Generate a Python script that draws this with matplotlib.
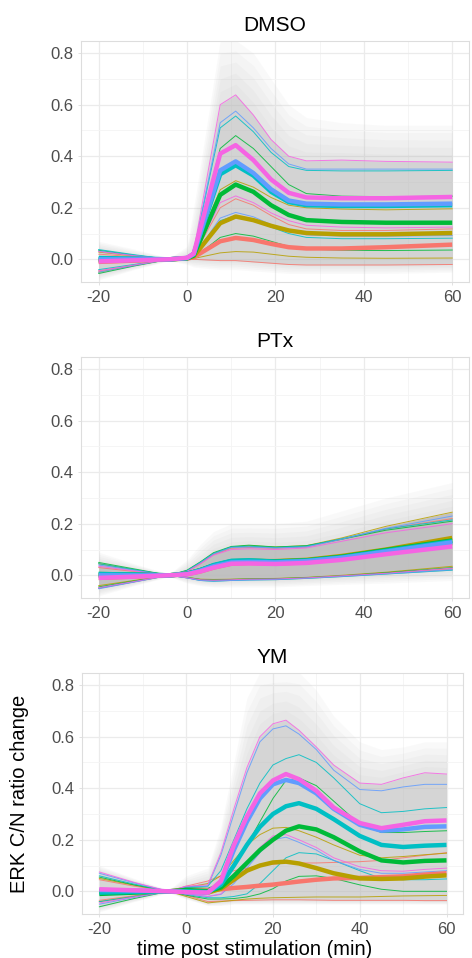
# ------------------------------------ Imports ----------------------------------
import numpy as np
import matplotlib
matplotlib.use("Agg")
import matplotlib.pyplot as plt
from matplotlib.ticker import MultipleLocator

# ------------------------------------ Data ----------------------------------
# ggplot hue palette, 6 groups (red, olive, green, cyan, blue, magenta)
group_colors = ["#F8766D", "#B79F00", "#00BA38", "#00BFC4", "#619CFF", "#F564E3"]
panel_titles = ["DMSO", "PTx", "YM"]

# DMSO
time_dmso = [-20, -12, -4, 0, 1.5, 7.5, 11, 15, 19, 23, 27, 35, 45, 60]
dmso_median = [
    [-0.01, -0.005, 0, 0.003, 0.008, 0.07, 0.083, 0.075, 0.06, 0.047, 0.042, 0.042, 0.047, 0.057],
    [-0.005, -0.003, 0, 0.004, 0.012, 0.14, 0.166, 0.152, 0.13, 0.112, 0.102, 0.097, 0.097, 0.102],
    [0.0, 0.0, 0, 0.004, 0.015, 0.25, 0.29, 0.262, 0.21, 0.172, 0.152, 0.145, 0.142, 0.142],
    [0.005, 0.003, 0, 0.005, 0.02, 0.33, 0.365, 0.325, 0.262, 0.222, 0.21, 0.207, 0.207, 0.21],
    [0.0, 0.0, 0, 0.005, 0.02, 0.345, 0.38, 0.335, 0.272, 0.228, 0.216, 0.213, 0.213, 0.216],
    [-0.008, -0.004, 0, 0.006, 0.022, 0.41, 0.443, 0.385, 0.31, 0.258, 0.24, 0.237, 0.237, 0.242],
]
dmso_upper = [
    [0.02, 0.01, 0, 0.006, 0.015, 0.2, 0.235, 0.21, 0.17, 0.135, 0.118, 0.112, 0.112, 0.118],
    [0.028, 0.013, 0, 0.008, 0.02, 0.27, 0.305, 0.28, 0.24, 0.21, 0.2, 0.195, 0.192, 0.196],
    [0.035, 0.016, 0, 0.01, 0.026, 0.43, 0.48, 0.43, 0.36, 0.29, 0.255, 0.245, 0.243, 0.245],
    [0.038, 0.018, 0, 0.01, 0.03, 0.51, 0.556, 0.495, 0.415, 0.36, 0.345, 0.343, 0.343, 0.345],
    [0.032, 0.015, 0, 0.01, 0.03, 0.53, 0.575, 0.51, 0.43, 0.37, 0.35, 0.35, 0.35, 0.35],
    [0.03, 0.014, 0, 0.011, 0.032, 0.6, 0.638, 0.56, 0.465, 0.4, 0.382, 0.385, 0.38, 0.377],
]
dmso_lower = [
    [-0.045, -0.022, 0, 0.0, 0.0, -0.005, -0.005, -0.01, -0.015, -0.02, -0.022, -0.022, -0.022, -0.02],
    [-0.05, -0.024, 0, 0.0, 0.003, 0.025, 0.03, 0.028, 0.02, 0.012, 0.008, 0.005, 0.004, 0.005],
    [-0.055, -0.026, 0, 0.0, 0.005, 0.085, 0.1, 0.09, 0.07, 0.05, 0.04, 0.035, 0.034, 0.036],
    [-0.04, -0.02, 0, 0.002, 0.01, 0.15, 0.17, 0.15, 0.125, 0.1, 0.085, 0.08, 0.08, 0.082],
    [-0.05, -0.024, 0, 0.002, 0.01, 0.16, 0.182, 0.165, 0.135, 0.11, 0.095, 0.09, 0.09, 0.092],
    [-0.045, -0.022, 0, 0.003, 0.012, 0.22, 0.246, 0.22, 0.18, 0.15, 0.132, 0.125, 0.122, 0.125],
]
dmso_cloud_hi = [0.07, 0.04, 0.005, 0.05, 0.2, 0.85, 0.85, 0.8, 0.7, 0.6, 0.55, 0.53, 0.52, 0.52]
dmso_cloud_lo = [-0.08, -0.04, -0.005, -0.02, -0.03, -0.04, -0.04, -0.045, -0.05, -0.055, -0.055, -0.055, -0.055, -0.05]

# PTx
time_ptx = [-20, -12, -4, 0, 3, 6, 10, 14, 20, 27, 35, 45, 60]
ptx_median = [
    [-0.01, -0.005, 0, 0.004, 0.015, 0.03, 0.045, 0.048, 0.046, 0.05, 0.065, 0.09, 0.125],
    [0.0, 0.0, 0, 0.006, 0.02, 0.038, 0.052, 0.055, 0.055, 0.06, 0.075, 0.1, 0.145],
    [0.005, 0.003, 0, 0.006, 0.02, 0.038, 0.055, 0.057, 0.054, 0.058, 0.072, 0.098, 0.135],
    [0.005, 0.003, 0, 0.006, 0.02, 0.04, 0.056, 0.058, 0.053, 0.057, 0.07, 0.095, 0.132],
    [0.0, 0.0, 0, 0.005, 0.018, 0.035, 0.05, 0.052, 0.05, 0.055, 0.068, 0.092, 0.128],
    [-0.01, -0.005, 0, 0.004, 0.015, 0.03, 0.045, 0.046, 0.044, 0.048, 0.06, 0.082, 0.112],
]
ptx_upper = [
    [0.03, 0.015, 0, 0.015, 0.045, 0.08, 0.105, 0.108, 0.105, 0.11, 0.14, 0.18, 0.22],
    [0.045, 0.022, 0, 0.018, 0.05, 0.085, 0.11, 0.115, 0.11, 0.115, 0.145, 0.19, 0.245],
    [0.05, 0.025, 0, 0.02, 0.052, 0.088, 0.112, 0.117, 0.11, 0.115, 0.14, 0.175, 0.21],
    [0.045, 0.022, 0, 0.018, 0.05, 0.085, 0.11, 0.113, 0.108, 0.113, 0.142, 0.18, 0.215],
    [0.04, 0.02, 0, 0.016, 0.048, 0.083, 0.108, 0.11, 0.106, 0.11, 0.14, 0.182, 0.23],
    [0.035, 0.017, 0, 0.015, 0.045, 0.078, 0.1, 0.103, 0.1, 0.106, 0.132, 0.165, 0.2],
]
ptx_lower = [
    [-0.05, -0.025, 0, -0.01, -0.018, -0.02, -0.018, -0.016, -0.015, -0.01, -0.003, 0.008, 0.025],
    [-0.04, -0.02, 0, -0.008, -0.015, -0.016, -0.015, -0.013, -0.012, -0.008, 0.0, 0.012, 0.035],
    [-0.045, -0.022, 0, -0.008, -0.016, -0.018, -0.016, -0.014, -0.013, -0.009, -0.002, 0.01, 0.03],
    [-0.05, -0.025, 0, -0.01, -0.02, -0.023, -0.02, -0.018, -0.017, -0.012, -0.005, 0.005, 0.02],
    [-0.052, -0.026, 0, -0.01, -0.02, -0.022, -0.02, -0.018, -0.016, -0.011, -0.004, 0.006, 0.022],
    [-0.048, -0.024, 0, -0.009, -0.017, -0.019, -0.017, -0.015, -0.014, -0.01, -0.002, 0.008, 0.028],
]
ptx_cloud_hi = [0.09, 0.045, 0.005, 0.06, 0.12, 0.17, 0.2, 0.2, 0.2, 0.21, 0.25, 0.3, 0.36]
ptx_cloud_lo = [-0.08, -0.04, -0.005, -0.03, -0.04, -0.045, -0.045, -0.045, -0.045, -0.04, -0.035, -0.03, -0.02]

# YM
time_ym = [-20, -12, -4, 0, 5, 8, 11, 14, 17, 20, 23, 26, 30, 34, 40, 45, 50, 55, 60]
ym_median = [
    [0.0, 0.0, 0, 0.005, 0.003, 0.008, 0.013, 0.017, 0.022, 0.026, 0.032, 0.038, 0.045, 0.05, 0.052, 0.055, 0.058, 0.065, 0.07],
    [0.0, 0.0, 0, 0.003, -0.005, 0.01, 0.045, 0.08, 0.1, 0.112, 0.115, 0.108, 0.09, 0.07, 0.05, 0.048, 0.05, 0.057, 0.062],
    [-0.01, -0.005, 0, 0.005, 0.0, 0.015, 0.06, 0.11, 0.16, 0.2, 0.235, 0.252, 0.24, 0.21, 0.155, 0.12, 0.112, 0.118, 0.12],
    [-0.005, -0.002, 0, 0.0, -0.003, 0.025, 0.1, 0.18, 0.25, 0.3, 0.33, 0.342, 0.32, 0.28, 0.215, 0.18, 0.172, 0.177, 0.18],
    [0.005, 0.003, 0, -0.003, -0.005, 0.035, 0.16, 0.27, 0.36, 0.415, 0.432, 0.42, 0.38, 0.32, 0.258, 0.235, 0.24, 0.25, 0.252],
    [0.008, 0.004, 0, -0.003, -0.005, 0.04, 0.18, 0.29, 0.38, 0.43, 0.455, 0.435, 0.39, 0.325, 0.265, 0.245, 0.258, 0.272, 0.275],
]
ym_upper = [
    [0.045, 0.02, 0, 0.02, 0.04, 0.06, 0.08, 0.09, 0.1, 0.105, 0.11, 0.11, 0.11, 0.112, 0.115, 0.12, 0.13, 0.14, 0.15],
    [0.05, 0.024, 0, 0.015, 0.03, 0.06, 0.12, 0.18, 0.22, 0.245, 0.248, 0.235, 0.21, 0.18, 0.14, 0.13, 0.135, 0.142, 0.148],
    [0.055, 0.025, 0, 0.015, 0.012, 0.03, 0.1, 0.18, 0.27, 0.36, 0.43, 0.44, 0.41, 0.35, 0.26, 0.228, 0.228, 0.232, 0.235],
    [0.06, 0.028, 0, 0.015, 0.02, 0.08, 0.2, 0.32, 0.42, 0.49, 0.515, 0.53, 0.5, 0.44, 0.34, 0.305, 0.31, 0.32, 0.325],
    [0.07, 0.033, 0, 0.018, 0.02, 0.14, 0.3, 0.46, 0.58, 0.63, 0.642, 0.61, 0.55, 0.47, 0.395, 0.39, 0.405, 0.415, 0.415],
    [0.075, 0.035, 0, 0.02, 0.025, 0.15, 0.32, 0.48, 0.6, 0.65, 0.664, 0.625, 0.56, 0.49, 0.42, 0.415, 0.44, 0.46, 0.455],
]
ym_lower = [
    [-0.035, -0.017, 0, -0.015, -0.04, -0.038, -0.036, -0.035, -0.034, -0.033, -0.033, -0.033, -0.034, -0.035, -0.035, -0.035, -0.035, -0.036, -0.036],
    [-0.04, -0.02, 0, -0.02, -0.045, -0.04, -0.035, -0.03, -0.027, -0.025, -0.024, -0.023, -0.022, -0.022, -0.022, -0.02, -0.018, -0.017, -0.016],
    [-0.06, -0.028, 0, -0.015, -0.03, -0.03, -0.028, -0.022, -0.01, 0.01, 0.04, 0.058, 0.06, 0.05, 0.025, 0.008, 0.0, 0.0, 0.0],
    [-0.04, -0.02, 0, -0.012, -0.025, -0.025, -0.02, -0.01, 0.03, 0.08, 0.13, 0.15, 0.145, 0.12, 0.08, 0.05, 0.045, 0.045, 0.048],
    [-0.05, -0.024, 0, -0.01, -0.02, -0.012, 0.03, 0.09, 0.15, 0.2, 0.21, 0.19, 0.16, 0.12, 0.085, 0.07, 0.07, 0.075, 0.08],
    [-0.045, -0.022, 0, -0.01, -0.02, -0.01, 0.04, 0.1, 0.17, 0.215, 0.22, 0.2, 0.17, 0.13, 0.095, 0.08, 0.078, 0.085, 0.09],
]
ym_cloud_hi = [0.1, 0.05, 0.005, 0.06, 0.09, 0.25, 0.5, 0.75, 0.85, 0.85, 0.85, 0.85, 0.78, 0.68, 0.58, 0.55, 0.56, 0.58, 0.58]
ym_cloud_lo = [-0.08, -0.04, -0.005, -0.03, -0.055, -0.055, -0.05, -0.05, -0.05, -0.05, -0.05, -0.05, -0.05, -0.05, -0.05, -0.05, -0.05, -0.05, -0.05]

x_ticks = [-20, 0, 20, 40, 60]
y_ticks = [0.0, 0.2, 0.4, 0.6, 0.8]

# ------------------------------------ Figure ----------------------------------
plt.rcParams["font.family"] = ["Liberation Sans", "DejaVu Sans"]
plt.rcParams["axes.unicode_minus"] = False

W, H = 472, 958
fig = plt.figure(figsize=(W / 100, H / 100), dpi=100)

# panel boxes in pixels: left, top, right, bottom
boxes = [(81, 41, 469, 282), (81, 357, 469, 598), (82, 673, 463, 914)]

panels = [
    (time_dmso, dmso_median, dmso_upper, dmso_lower, dmso_cloud_lo, dmso_cloud_hi, 0.45),
    (time_ptx, ptx_median, ptx_upper, ptx_lower, ptx_cloud_lo, ptx_cloud_hi, 0.9),
    (time_ym, ym_median, ym_upper, ym_lower, ym_cloud_lo, ym_cloud_hi, 0.4),
]

for i, (t, med, up, lo, c_lo, c_hi, core_alpha) in enumerate(panels):
    l, tp, r, b = boxes[i]
    ax = fig.add_axes([l / W, 1 - b / H, (r - l) / W, (b - tp) / H])

    core_lo = np.min(np.array(lo), axis=0)
    core_hi = np.max(np.array(up), axis=0)
    c_lo = np.array(c_lo)
    c_hi = np.array(c_hi)

    # grey cloud of single-cell traces, faded towards its outer edge
    for f in [1.0, 0.8, 0.6, 0.4, 0.2]:
        ax.fill_between(t, core_lo + (c_lo - core_lo) * f, core_hi + (c_hi - core_hi) * f,
                        color="#b4b4b4", alpha=0.07, lw=0, zorder=1)
    ax.fill_between(t, core_lo, core_hi, color="#bdbdbd", alpha=core_alpha, lw=0, zorder=2)

    # quantile lines (thin) then medians (thick)
    for k, col in enumerate(group_colors):
        ax.plot(t, up[k], color=col, lw=0.7, alpha=0.85, zorder=3)
        ax.plot(t, lo[k], color=col, lw=0.7, alpha=0.85, zorder=3)
    for k, col in enumerate(group_colors):
        ax.plot(t, med[k], color=col, lw=3.2, zorder=4, solid_capstyle="butt")

    ax.set_xlim(-24, 63.8)
    ax.set_ylim(-0.088, 0.847)
    ax.set_xticks(x_ticks)
    ax.set_yticks(y_ticks)
    ax.set_yticklabels([f"{v:.1f}" for v in y_ticks])
    ax.xaxis.set_minor_locator(MultipleLocator(10))
    ax.yaxis.set_minor_locator(MultipleLocator(0.1))
    ax.grid(which="major", color="#EBEBEB", lw=0.9)
    ax.grid(which="minor", color="#F4F4F4", lw=0.6)
    ax.set_axisbelow(True)
    ax.tick_params(which="major", length=2.5, width=0.6, color="#DDDDDD",
                   labelsize=12, labelcolor="#4D4D4D", pad=3)
    ax.tick_params(which="minor", length=0)
    for s in ax.spines.values():
        s.set_color("#DDDDDD")
        s.set_linewidth(0.8)
    ax.set_title(panel_titles[i], fontsize=15, color="black", pad=7)

fig.text(20 / W, 1 - 794 / H, "ERK C/N ratio change", rotation=90,
         ha="center", va="center", fontsize=14.5, color="black")
fig.text(255 / W, 1 - 955 / H, "time post stimulation (min)",
         ha="center", va="baseline", fontsize=14.5, color="black")

fig.savefig("out.png", dpi=100)
